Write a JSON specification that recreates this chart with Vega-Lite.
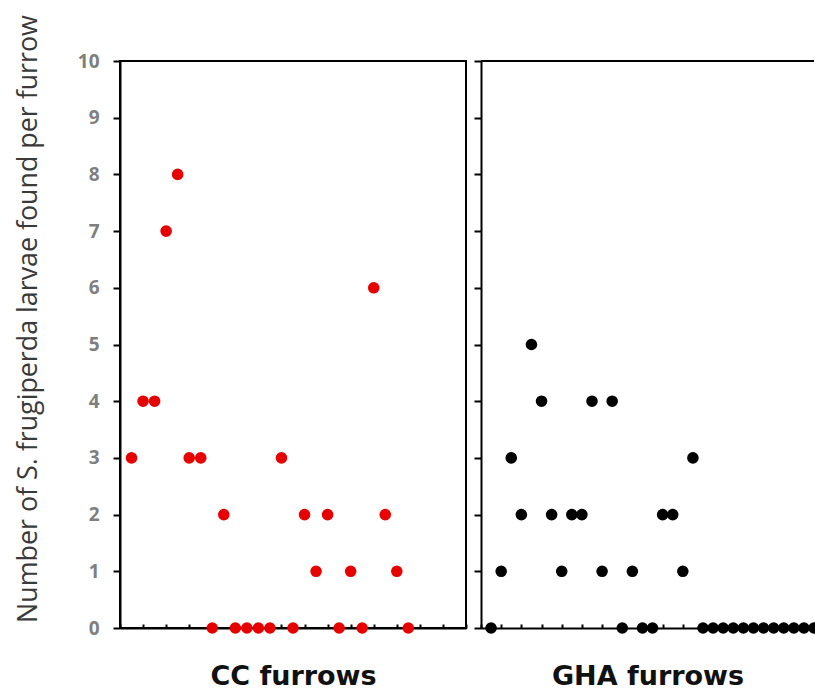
{
  "$schema": "https://vega.github.io/schema/vega-lite/v6.json",
  "background": "white",
  "padding": {"left": 14, "top": 13, "right": 0, "bottom": 0},
  "spacing": 5,
  "config": {
    "view": {"stroke": null},
    "axis": {"grid": false, "domainColor": "black", "domainWidth": 2, "tickColor": "black", "tickWidth": 2},
    "font": "Open Sans"
  },
  "datasets": {
    "cc": [
      {"furrow": 1, "larvae": 3}, {"furrow": 2, "larvae": 4}, {"furrow": 3, "larvae": 4}, {"furrow": 4, "larvae": 7},
      {"furrow": 5, "larvae": 8}, {"furrow": 6, "larvae": 3}, {"furrow": 7, "larvae": 3}, {"furrow": 8, "larvae": 0},
      {"furrow": 9, "larvae": 2}, {"furrow": 10, "larvae": 0}, {"furrow": 11, "larvae": 0}, {"furrow": 12, "larvae": 0},
      {"furrow": 13, "larvae": 0}, {"furrow": 14, "larvae": 3}, {"furrow": 15, "larvae": 0}, {"furrow": 16, "larvae": 2},
      {"furrow": 17, "larvae": 1}, {"furrow": 18, "larvae": 2}, {"furrow": 19, "larvae": 0}, {"furrow": 20, "larvae": 1},
      {"furrow": 21, "larvae": 0}, {"furrow": 22, "larvae": 6}, {"furrow": 23, "larvae": 2}, {"furrow": 24, "larvae": 1},
      {"furrow": 25, "larvae": 0}
    ],
    "gha": [
      {"furrow": 1, "larvae": 0}, {"furrow": 2, "larvae": 1}, {"furrow": 3, "larvae": 3}, {"furrow": 4, "larvae": 2},
      {"furrow": 5, "larvae": 5}, {"furrow": 6, "larvae": 4}, {"furrow": 7, "larvae": 2}, {"furrow": 8, "larvae": 1},
      {"furrow": 9, "larvae": 2}, {"furrow": 10, "larvae": 2}, {"furrow": 11, "larvae": 4}, {"furrow": 12, "larvae": 1},
      {"furrow": 13, "larvae": 4}, {"furrow": 14, "larvae": 0}, {"furrow": 15, "larvae": 1}, {"furrow": 16, "larvae": 0},
      {"furrow": 17, "larvae": 0}, {"furrow": 18, "larvae": 2}, {"furrow": 19, "larvae": 2}, {"furrow": 20, "larvae": 1},
      {"furrow": 21, "larvae": 3}, {"furrow": 22, "larvae": 0}, {"furrow": 23, "larvae": 0}, {"furrow": 24, "larvae": 0},
      {"furrow": 25, "larvae": 0}, {"furrow": 26, "larvae": 0}, {"furrow": 27, "larvae": 0}, {"furrow": 28, "larvae": 0},
      {"furrow": 29, "larvae": 0}, {"furrow": 30, "larvae": 0}, {"furrow": 31, "larvae": 0}, {"furrow": 32, "larvae": 0},
      {"furrow": 33, "larvae": 0}
    ]
  },
  "hconcat": [
    {
      "data": {"name": "cc"},
      "width": 346,
      "height": 567,
      "view": {"stroke": "black", "strokeWidth": 2},
      "mark": {"type": "circle", "size": 135, "opacity": 1, "color": "#e60000"},
      "encoding": {
        "x": {
          "field": "furrow", "type": "quantitative",
          "scale": {"domain": [0, 30], "nice": false, "zero": true},
          "axis": {
            "title": "CC furrows", "labels": false,
            "values": [0, 2, 4, 6, 8, 10, 12, 14, 16, 18, 20, 22, 24, 26, 28, 30],
            "tickSize": -4,
            "titleFont": "DejaVu Sans", "titleFontSize": 27, "titleFontWeight": "bold", "titleColor": "#111111", "titlePadding": 34
          }
        },
        "y": {
          "field": "larvae", "type": "quantitative",
          "scale": {"domain": [0, 10], "nice": false},
          "axis": {
            "title": "Number of S. frugiperda larvae found per furrow",
            "values": [0, 1, 2, 3, 4, 5, 6, 7, 8, 9, 10],
            "tickSize": 7,
            "labelFontSize": 19, "labelFontWeight": "bold", "labelColor": "#7f7f7f", "labelPadding": 14,
            "titleFontSize": 26.8, "titleFontWeight": "normal", "titleColor": "#3a3a3a", "titlePadding": 35,
            "titleY": 257.5
          }
        }
      }
    },
    {
      "data": {"name": "gha"},
      "width": 333,
      "height": 567,
      "layer": [
        {
          "mark": {"type": "rule", "strokeWidth": 2, "color": "black"},
          "encoding": {"y": {"datum": 10, "type": "quantitative"}}
        },
        {
          "mark": {"type": "circle", "size": 135, "opacity": 1, "color": "black"},
          "encoding": {
            "x": {
              "field": "furrow", "type": "quantitative",
              "scale": {"domain": [0, 33], "nice": false, "zero": true},
              "axis": {
                "title": "GHA furrows", "labels": false,
                "values": [0, 2, 4, 6, 8, 10, 12, 14, 16, 18, 20, 22, 24, 26, 28, 30, 32],
                "tickSize": -4,
                "titleFont": "DejaVu Sans", "titleFontSize": 27, "titleFontWeight": "bold", "titleColor": "#111111", "titlePadding": 34
              }
            },
            "y": {
              "field": "larvae", "type": "quantitative",
              "scale": {"domain": [0, 10], "nice": false},
              "axis": {
                "title": null, "labels": false,
                "values": [0, 1, 2, 3, 4, 5, 6, 7, 8, 9, 10],
                "tickSize": 7
              }
            }
          }
        }
      ]
    }
  ]
}
